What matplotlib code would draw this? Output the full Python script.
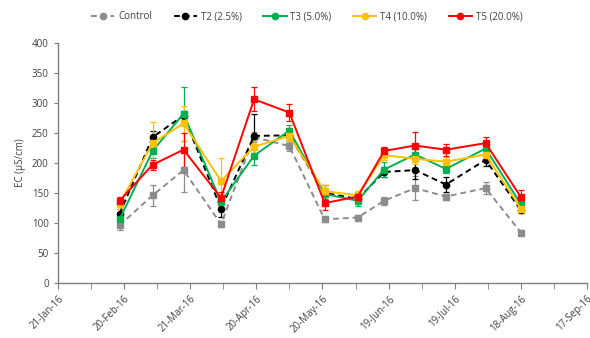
import matplotlib
matplotlib.use("Agg")
import matplotlib.pyplot as plt
import matplotlib.dates as mdates
import numpy as np
import datetime as dt

dates = ["2016-02-18", "2016-03-04", "2016-03-18", "2016-04-04", "2016-04-19",
         "2016-05-05", "2016-05-21", "2016-06-05", "2016-06-17", "2016-07-01",
         "2016-07-15", "2016-08-02", "2016-08-18"]

control = [96, 146, 188, 98, 243, 228, 106, 109, 137, 158, 144, 158, 84]
t2 = [115, 243, 279, 124, 245, 246, 150, 140, 185, 188, 164, 205, 121]
t3 = [106, 220, 282, 135, 212, 254, 148, 137, 189, 214, 190, 224, 131]
t4 = [132, 233, 266, 170, 227, 245, 153, 146, 213, 207, 202, 214, 124]
t5 = [137, 197, 222, 142, 306, 284, 133, 144, 220, 229, 222, 233, 143]

control_err = [7, 18, 36, 5, 8, 8, 5, 4, 7, 20, 5, 10, 4]
t2_err = [8, 10, 8, 14, 37, 10, 14, 6, 8, 15, 12, 10, 5]
t3_err = [8, 12, 45, 8, 15, 10, 8, 8, 12, 10, 6, 10, 8]
t4_err = [8, 36, 29, 38, 15, 8, 10, 8, 8, 8, 8, 8, 8]
t5_err = [6, 8, 28, 10, 20, 14, 12, 6, 6, 23, 10, 10, 12]

labels = ["Control", "T2 (2.5%)", "T3 (5.0%)", "T4 (10.0%)", "T5 (20.0%)"]
series = [control, t2, t3, t4, t5]
errors = [control_err, t2_err, t3_err, t4_err, t5_err]
colors = ["#8C8C8C", "#000000", "#00B050", "#FFC000", "#FF0000"]
styles = [(0, (3, 2)), (0, (3, 2)), "-", "-", "-"]
markers = ["s", "o", "s", "s", "s"]

tick_start = dt.date(2016, 1, 21)
tick_dates = [tick_start + dt.timedelta(days=30 * i) for i in range(9)]
minor_dates = [tick_start + dt.timedelta(days=15 * i) for i in range(17)]

plt.rcParams['font.family'] = ['Open Sans', 'DejaVu Sans']

x = [dt.datetime.strptime(d, "%Y-%m-%d").date() for d in dates]

fig = plt.figure(figsize=(5.9, 3.38), dpi=100)
ax = fig.add_axes([0.098, 0.163, 0.897, 0.71])

handles = []
for vals, err, c, ls, m, lab in zip(series, errors, colors, styles, markers, labels):
    eb = ax.errorbar(x, vals, yerr=err, color=c, linestyle=ls, linewidth=1.4,
                     marker=m, markersize=4.5, capsize=2, elinewidth=0.9,
                     capthick=0.9, label=lab)
    handles.append(eb)

ax.set_xlim(tick_start, tick_dates[-1])
ax.set_ylim(0, 400)
ax.set_yticks(np.arange(0, 401, 50))
ax.set_xticks(tick_dates)
ax.set_xticks(minor_dates, minor=True)
ax.xaxis.set_major_formatter(mdates.DateFormatter("%-d-%b-%y"))
for lbl in ax.get_xticklabels():
    lbl.set_rotation(45)
    lbl.set_ha("right")
    lbl.set_rotation_mode("anchor")

for s in ["top", "right"]:
    ax.spines[s].set_visible(False)
for s in ["left", "bottom"]:
    ax.spines[s].set_color("#7F7F7F")
    ax.spines[s].set_linewidth(1.0)

ax.tick_params(axis="both", which="both", direction="out", length=4,
               color="#7F7F7F", labelsize=7, labelcolor="#404040")
ax.tick_params(axis="y", length=3)
ax.set_ylabel("EC (µS/cm)", fontsize=7, color="#404040", labelpad=4)

leg_handles = [plt.Line2D([], [], color=c, linestyle=ls, marker="o", markersize=4.5, linewidth=1.4)
               for c, ls in zip(colors, styles)]
fig.legend(leg_handles, labels, loc="center", bbox_to_anchor=(0.52, 0.95), ncol=5,
           frameon=False, fontsize=7, handlelength=2.4, columnspacing=2.2,
           handletextpad=0.4, labelcolor="#404040")

fig.savefig("out.png", dpi=100)
